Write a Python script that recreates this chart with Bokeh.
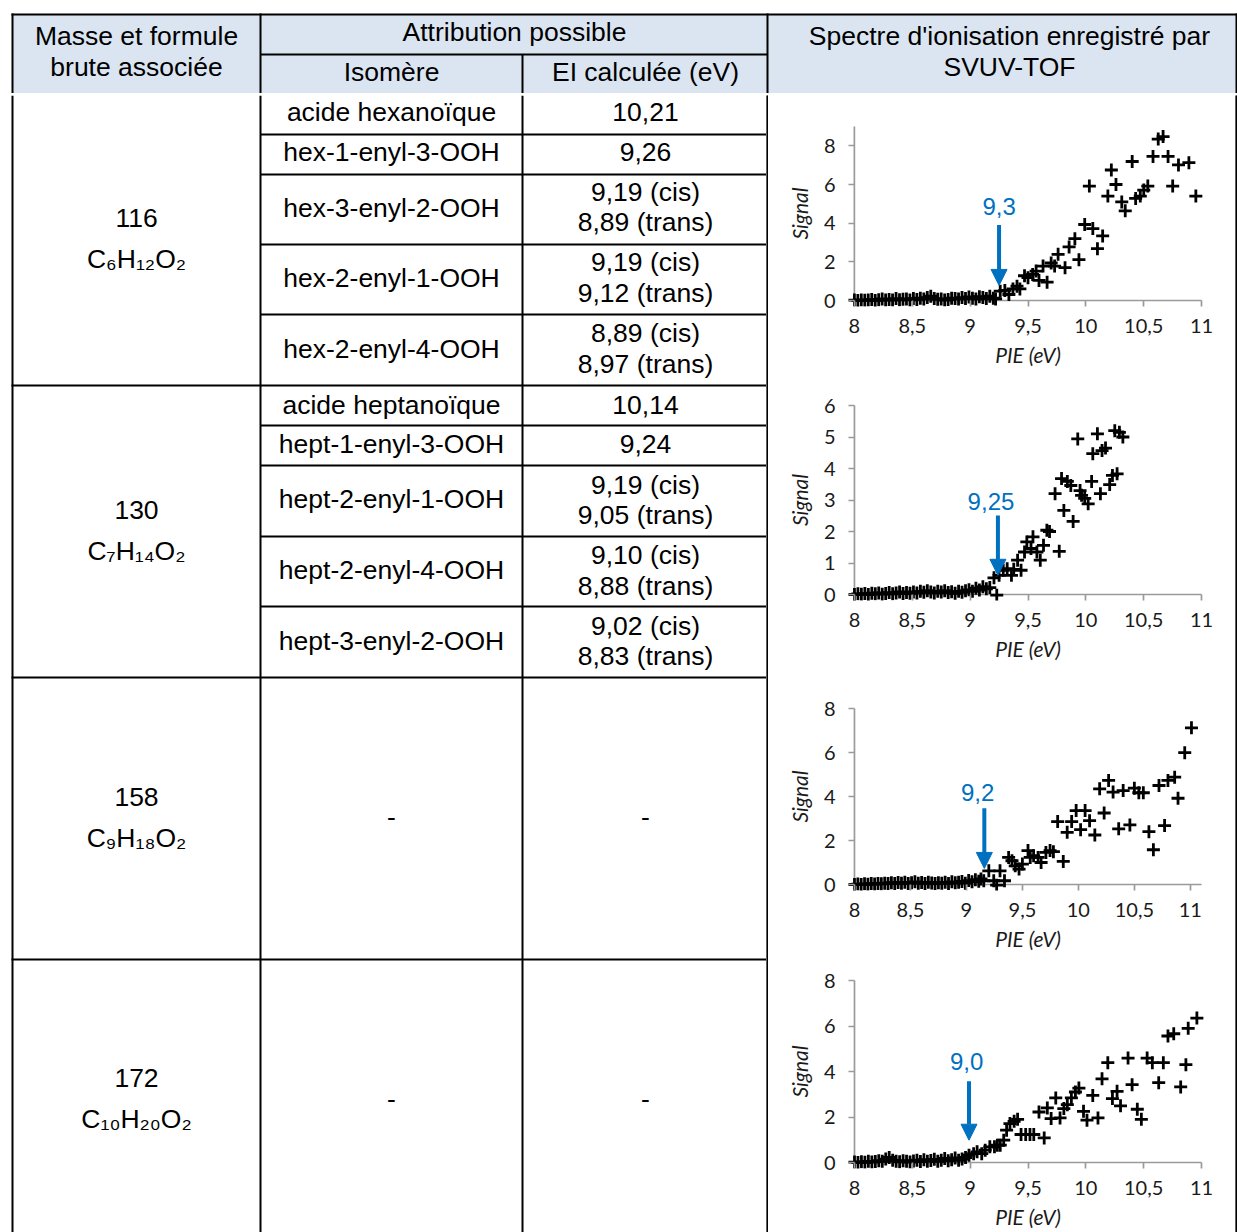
from bokeh.plotting import figure
from bokeh.layouts import row, column
from bokeh.models import Range1d, FixedTicker, Arrow, NormalHead, Label, ColumnDataSource, CustomJSTickFormatter
from bokeh.embed import file_html
from bokeh.resources import INLINE
from bokeh.core.properties import value

TFONT = "Liberation Sans"
PFONT = "Lato"
BLUE = "#0070C0"
HEAD_BG = "#DBE5F1"
AXIS_GRAY = "#9a9a9a"
FS = "26.5px"

# ---------------- table content ----------------
header_left = ["Masse et formule", "brute associée"]
header_mid = "Attribution possible"
header_sub = ["Isomère", "EI calculée (eV)"]
header_right = ["Spectre d'ionisation enregistré par", "SVUV-TOF"]

masses = ["116", "130", "158", "172"]
formulas = ["C₆H₁₂O₂", "C₇H₁₄O₂", "C₉H₁₈O₂", "C₁₀H₂₀O₂"]

isomers_116 = ["acide hexanoïque", "hex-1-enyl-3-OOH", "hex-3-enyl-2-OOH", "hex-2-enyl-1-OOH", "hex-2-enyl-4-OOH"]
ei_116 = [["10,21"], ["9,26"], ["9,19 (cis)", "8,89 (trans)"], ["9,19 (cis)", "9,12 (trans)"], ["8,89 (cis)", "8,97 (trans)"]]
isomers_130 = ["acide heptanoïque", "hept-1-enyl-3-OOH", "hept-2-enyl-1-OOH", "hept-2-enyl-4-OOH", "hept-3-enyl-2-OOH"]
ei_130 = [["10,14"], ["9,24"], ["9,19 (cis)", "9,05 (trans)"], ["9,10 (cis)", "8,88 (trans)"], ["9,02 (cis)", "8,83 (trans)"]]

# ---------------- spectra data (PIE in eV, signal) ----------------
x116 = [8.00, 8.03, 8.06, 8.09, 8.12, 8.15, 8.18, 8.21, 8.24, 8.27, 8.30, 8.33, 8.36, 8.39, 8.42,
        8.45, 8.48, 8.51, 8.54, 8.57, 8.60, 8.63, 8.66, 8.69, 8.72, 8.75, 8.78, 8.81, 8.84, 8.87,
        8.90, 8.93, 8.96, 8.99, 9.02, 9.05, 9.08, 9.11, 9.14, 9.17, 9.20, 9.22,
        9.26, 9.30, 9.335, 9.37, 9.405, 9.43, 9.47, 9.50, 9.54, 9.57, 9.595, 9.63, 9.665, 9.70,
        9.73, 9.76, 9.82, 9.855, 9.905, 9.94, 9.99, 10.03, 10.06, 10.10, 10.145, 10.19, 10.22,
        10.26, 10.31, 10.34, 10.40, 10.43, 10.47, 10.50, 10.535, 10.58, 10.625, 10.667, 10.71,
        10.75, 10.80, 10.89, 10.95]
y116 = [0.02, 0.00, 0.03, 0.01, 0.02, 0.05, 0.00, 0.04, 0.08, 0.02, 0.05, 0.03, 0.10, 0.04, 0.06,
        0.08, 0.03, 0.10, 0.05, 0.12, 0.08, 0.15, 0.22, 0.10, 0.06, 0.08, 0.02, 0.05, 0.12, 0.10,
        0.08, 0.15, 0.10, 0.18, 0.12, 0.08, 0.20, 0.15, 0.10, 0.22, 0.12, 0.08,
        0.48, 0.52, 0.31, 0.60, 0.74, 0.60, 1.28, 1.18, 1.35, 1.52, 1.04, 1.78, 0.95, 1.94,
        1.78, 2.39, 1.70, 2.77, 3.20, 2.11, 3.93, 5.92, 3.72, 2.68, 3.34, 5.40, 6.75,
        6.00, 5.10, 4.64, 7.19, 5.28, 5.40, 5.71, 5.92, 7.45, 8.35, 8.48, 7.45,
        5.92, 7.01, 7.13, 5.40]

x130 = [8.00, 8.03, 8.06, 8.09, 8.12, 8.15, 8.18, 8.21, 8.24, 8.27, 8.30, 8.33, 8.36, 8.39, 8.42,
        8.45, 8.48, 8.51, 8.54, 8.57, 8.60, 8.63, 8.66, 8.69, 8.72, 8.75, 8.78, 8.81, 8.84, 8.87,
        8.90, 8.93, 8.96, 8.99, 9.02, 9.05, 9.08, 9.11, 9.14, 9.17, 9.23,
        9.206, 9.25, 9.286, 9.32, 9.357, 9.377, 9.41, 9.44, 9.47, 9.49, 9.526, 9.543, 9.577,
        9.606, 9.634, 9.663, 9.686, 9.734, 9.77, 9.79, 9.81, 9.84, 9.87, 9.89, 9.93, 9.95,
        9.963, 9.99, 10.02, 10.05, 10.06, 10.10, 10.126, 10.14, 10.17, 10.206, 10.23, 10.25,
        10.27, 10.29, 10.32]
y130 = [0.00, 0.02, 0.01, 0.03, 0.00, 0.04, 0.02, 0.05, 0.01, 0.03, 0.06, 0.02, 0.05, 0.08, 0.03,
        0.06, 0.04, 0.08, 0.05, 0.10, 0.07, 0.12, 0.08, 0.05, 0.10, 0.08, 0.12, 0.06, 0.09, 0.04,
        0.10, 0.07, 0.12, 0.15, 0.10, 0.20, 0.14, 0.25, 0.18, 0.22, -0.02,
        0.53, 0.61, 0.77, 0.82, 0.61, 0.80, 1.09, 0.77, 1.35, 1.67, 1.46, 1.83, 1.35,
        1.09, 1.56, 2.04, 2.00, 3.20, 1.37, 3.68, 2.67, 3.59, 3.46, 2.32, 4.94, 3.30,
        3.15, 3.05, 2.88, 3.59, 4.47, 5.10, 3.20, 4.57, 4.65, 3.49, 3.78, 5.20,
        3.83, 5.15, 5.00]

x158 = [8.00, 8.03, 8.06, 8.09, 8.12, 8.15, 8.18, 8.21, 8.24, 8.27, 8.30, 8.33, 8.36, 8.39, 8.42,
        8.45, 8.48, 8.51, 8.54, 8.57, 8.60, 8.63, 8.66, 8.69, 8.72, 8.75, 8.78, 8.81, 8.84, 8.87,
        8.90, 8.93, 8.96, 8.99, 9.02, 9.05, 9.08, 9.11, 9.13,
        9.155, 9.20, 9.244, 9.27, 9.30, 9.34, 9.377, 9.407, 9.436, 9.47, 9.50, 9.55, 9.57, 9.60,
        9.64, 9.667, 9.71, 9.747, 9.777, 9.815, 9.865, 9.90, 9.94, 9.98, 10.02, 10.06, 10.10,
        10.147, 10.19, 10.23, 10.27, 10.31, 10.36, 10.40, 10.46, 10.50, 10.54, 10.58, 10.63,
        10.67, 10.72, 10.77, 10.80, 10.86, 10.89, 10.95, 11.01]
y158 = [0.00, 0.02, 0.00, 0.03, 0.01, 0.04, 0.02, 0.05, 0.03, 0.06, 0.04, 0.08, 0.05, 0.09, 0.06,
        0.10, 0.04, 0.08, 0.12, 0.06, 0.09, 0.05, 0.10, 0.07, 0.04, 0.08, 0.06, 0.10, 0.05, 0.12,
        0.08, 0.10, 0.14, 0.06, 0.18, 0.12, 0.22, 0.15, 0.25,
        0.17, 0.62, 0.17, -0.03, 0.62, 0.17, 1.23, 1.08, 0.85, 0.70, 0.93, 1.54, 1.23, 1.31,
        1.23, 1.00, 1.46, 1.54, 1.49, 2.86, 1.05, 2.37, 2.86, 3.36, 2.49, 3.36, 2.90,
        2.25, 4.35, 3.25, 4.73, 4.20, 2.53, 4.27, 2.71, 4.38, 4.17, 4.17, 2.40,
        1.58, 4.50, 2.68, 4.73, 4.88, 3.92, 5.99, 7.12]

x172 = [8.00, 8.03, 8.06, 8.09, 8.12, 8.15, 8.18, 8.21, 8.24, 8.27, 8.30, 8.33, 8.36, 8.39, 8.42,
        8.45, 8.48, 8.51, 8.54, 8.57, 8.60, 8.63, 8.66, 8.69, 8.72, 8.75, 8.78, 8.81, 8.84, 8.87,
        8.90, 8.93, 8.96,
        8.99, 9.03, 9.06, 9.10, 9.13, 9.17, 9.21, 9.235, 9.26, 9.29, 9.315, 9.344, 9.38, 9.41,
        9.44, 9.48, 9.517, 9.55, 9.595, 9.64, 9.667, 9.70, 9.74, 9.777, 9.81, 9.84, 9.875,
        9.91, 9.94, 9.98, 10.01, 10.06, 10.105, 10.14, 10.19, 10.23, 10.27, 10.30, 10.365,
        10.40, 10.445, 10.48, 10.53, 10.575, 10.63, 10.67, 10.71, 10.76, 10.82, 10.865,
        10.885, 10.96]
y172 = [0.02, 0.00, 0.03, 0.01, 0.05, 0.02, 0.04, 0.08, 0.05, 0.15, 0.22, 0.10, 0.06, 0.03, 0.08,
        0.05, 0.02, 0.07, 0.10, 0.04, 0.12, 0.06, 0.09, 0.14, 0.05, 0.10, 0.18, 0.08, 0.12, 0.20,
        0.10, 0.15, 0.22,
        0.32, 0.39, 0.47, 0.39, 0.54, 0.69, 0.69, 0.76, 0.76, 0.98, 1.42, 1.71, 1.81, 1.90,
        1.23, 1.23, 1.23, 1.23, 2.22, 1.08, 2.40, 1.93, 2.84, 1.96, 2.37, 2.54, 2.84,
        3.10, 3.27, 2.25, 1.86, 2.95, 1.96, 3.68, 4.39, 2.81, 3.13, 2.49, 4.59,
        3.42, 2.34, 1.90, 4.59, 4.39, 3.51, 4.39, 5.56, 5.66, 3.32, 4.30,
        5.90, 6.35]

onset_labels = ["9,3", "9,25", "9,2", "9,0"]
onset_arrow_x = [9.25, 9.24, 9.16, 8.99]
x_ticks = [8, 8.5, 9, 9.5, 10, 10.5, 11]

# ---------------- layout sizes ----------------
TOTAL_W = 1237
LEFT_W = 766
RIGHT_W = 467
HEAD_H = 93
BODY_H = 1137


def blank(w, h):
    p = figure(width=w, height=h, output_backend="svg", toolbar_location=None,
               x_range=Range1d(0, w), y_range=Range1d(h, 0),
               x_axis_type=None, y_axis_type=None, min_border=0)
    p.grid.visible = False
    p.outline_line_color = None
    p.background_fill_color = "white"
    p.border_fill_color = "white"
    return p


def black_bar(w, h):
    p = blank(w, h)
    p.background_fill_color = "black"
    p.border_fill_color = "black"
    p.quad(left=[0], right=[w], top=[0], bottom=[h], fill_color="black", line_color=None)
    return p


def put_text(p, xs, ys, texts, size=FS):
    src = ColumnDataSource(dict(x=xs, y=ys, t=texts))
    p.text(x="x", y="y", text="t", source=src, text_font=value(TFONT), text_font_size=size,
           text_align="center", text_baseline="middle", text_color="black")


# ---------------- header ----------------
head = blank(TOTAL_W, HEAD_H)
head.quad(left=[12], right=[1236], top=[14], bottom=[HEAD_H], fill_color=HEAD_BG, line_color=None)
head.segment(x0=[11, 12, 260, 767, 1236, 260, 522], y0=[14, 13, 13, 13, 13, 54, 54],
             x1=[1237, 12, 260, 767, 1236, 767, 522], y1=[14, HEAD_H, HEAD_H, HEAD_H, HEAD_H, 54, HEAD_H],
             line_color="black", line_width=2)
put_text(head, [136, 136], [35, 66], header_left)
put_text(head, [514], [31], [header_mid])
put_text(head, [391, 645], [71, 71], header_sub)
put_text(head, [1009, 1009], [35, 66], header_right)

# ---------------- body (left part of table) ----------------
body = blank(LEFT_W, BODY_H)
row_lines = [290, 582, 864]
sub_lines = [39, 79, 149, 219, 330, 370, 441, 511]
body.segment(x0=[12, 260, 522] + [11] * 3 + [260] * 8,
             y0=[0, 0, 0] + row_lines + sub_lines,
             x1=[12, 260, 522] + [LEFT_W] * 3 + [LEFT_W] * 8,
             y1=[BODY_H, BODY_H, BODY_H] + row_lines + sub_lines,
             line_color="black", line_width=2)

mass_y = [122, 414, 701, 982]
form_y = [163, 455, 742, 1023]
put_text(body, [136] * 4, mass_y, masses)
put_text(body, [136] * 4, form_y, formulas)

iso_y_116 = [16, 56, 112, 182, 253]
ei_y_116 = [[16], [56], [96, 126], [166, 197], [237, 268]]
iso_y_130 = [309, 348, 403, 474, 545]
ei_y_130 = [[309], [348], [389, 419], [459, 490], [530, 560]]

for names, eis, ny, ey in ((isomers_116, ei_116, iso_y_116, ei_y_116), (isomers_130, ei_130, iso_y_130, ei_y_130)):
    put_text(body, [391] * len(names), ny, names)
    for vals, yy in zip(eis, ey):
        put_text(body, [645] * len(vals), yy, vals)

put_text(body, [391, 645, 391, 645], [721, 721, 1003, 1003], ["-", "-", "-", "-"])


# ---------------- spectra ----------------
PAD = 6  # frame margin beyond the axes (= tick length), so markers on the axes are not cut


def spectrum(xs, ys, h, xmax, ymax, yticks, geom, arrow_x, arrow_y, lab_pos, lab):
    x8px, xmaxpx, ytoppx, y0px = geom
    L = int(round(x8px)) - PAD
    R = int(round(xmaxpx)) + PAD
    T = int(round(ytoppx)) - PAD
    B = int(round(y0px)) + PAD
    sx = (R - L - 2 * PAD) / (xmax - 8)
    sy = (B - T - 2 * PAD) / ymax
    p = figure(width=RIGHT_W, height=h, output_backend="svg", toolbar_location=None,
               x_range=Range1d(8 - PAD / sx, xmax + PAD / sx), y_range=Range1d(-PAD / sy, ymax + PAD / sy),
               min_border_left=L, min_border_right=RIGHT_W - R, min_border_top=T, min_border_bottom=h - B,
               x_axis_label="PIE (eV)", y_axis_label="Signal")
    p.grid.visible = False
    p.outline_line_color = None
    p.xaxis.ticker = FixedTicker(ticks=x_ticks)
    p.xaxis.formatter = CustomJSTickFormatter(code="return tick.toString().replace('.', ',');")
    p.yaxis.ticker = FixedTicker(ticks=yticks)
    for ax in (p.xaxis[0], p.yaxis[0]):
        ax.axis_line_color = None
        ax.major_tick_line_color = AXIS_GRAY
        ax.major_tick_line_width = 1.7
        ax.major_tick_in = PAD
        ax.major_tick_out = 0
        ax.minor_tick_line_color = None
        ax.major_label_text_font = PFONT
        ax.major_label_text_font_size = "20px"
        ax.major_label_text_color = "#1a1a1a"
        ax.axis_label_text_font = PFONT
        ax.axis_label_text_font_style = "italic"
        ax.axis_label_text_font_size = "21px"
        ax.axis_label_text_color = "#1a1a1a"
    p.xaxis.major_label_standoff = 12
    p.xaxis.axis_label_standoff = 6
    p.yaxis.major_label_standoff = 13
    p.yaxis.axis_label_standoff = 9
    # axis lines through the data origin (8, 0)
    p.segment(x0=[8, 8], y0=[0, 0], x1=[xmax, 8], y1=[0, ymax], line_color=AXIS_GRAY, line_width=1.7)
    p.scatter(xs, ys, marker="cross", size=13, line_width=2.8, line_color="black")
    p.add_layout(Arrow(end=NormalHead(size=16, fill_color=BLUE, line_color=BLUE, line_width=1),
                       x_start=arrow_x, y_start=arrow_y[0], x_end=arrow_x, y_end=arrow_y[1],
                       line_color=BLUE, line_width=4))
    p.add_layout(Label(x=lab_pos[0], y=lab_pos[1], text=lab, text_font=TFONT, text_font_size="24px",
                       text_color=BLUE, text_align="center", text_baseline="middle"))
    return p


s1 = spectrum(x116, y116, 289, 11, 9, [0, 2, 4, 6, 8], (85, 440, 31, 205),
              onset_arrow_x[0], (3.9, 0.78), (9.25, 4.85), onset_labels[0])
s2 = spectrum(x130, y130, 290, 11, 6, [0, 1, 2, 3, 4, 5, 6], (84.7, 434.7, 19, 208.3),
              onset_arrow_x[1], (2.51, 0.61), (9.18, 2.96), onset_labels[1])
s3 = spectrum(x158, y158, 280, 11.1, 8, [0, 2, 4, 6, 8], (83.7, 432.6, 30.3, 205.7),
              onset_arrow_x[2], (3.47, 0.73), (9.10, 4.2), onset_labels[2])
s4 = spectrum(x172, y172, 272, 11, 8, [0, 2, 4, 6, 8], (86, 432.7, 20, 202.3),
              onset_arrow_x[3], (3.57, 0.98), (8.97, 4.42), onset_labels[3])

right_col = column(s1, black_bar(RIGHT_W, 2), s2, black_bar(RIGHT_W, 2), s3, black_bar(RIGHT_W, 2), s4, spacing=0)
lower = row(body, black_bar(2, BODY_H), right_col, black_bar(2, BODY_H), spacing=0)
layout = column(head, black_bar(TOTAL_W, 2), lower, spacing=0)

open("out.html", "w").write(file_html(layout, INLINE))
